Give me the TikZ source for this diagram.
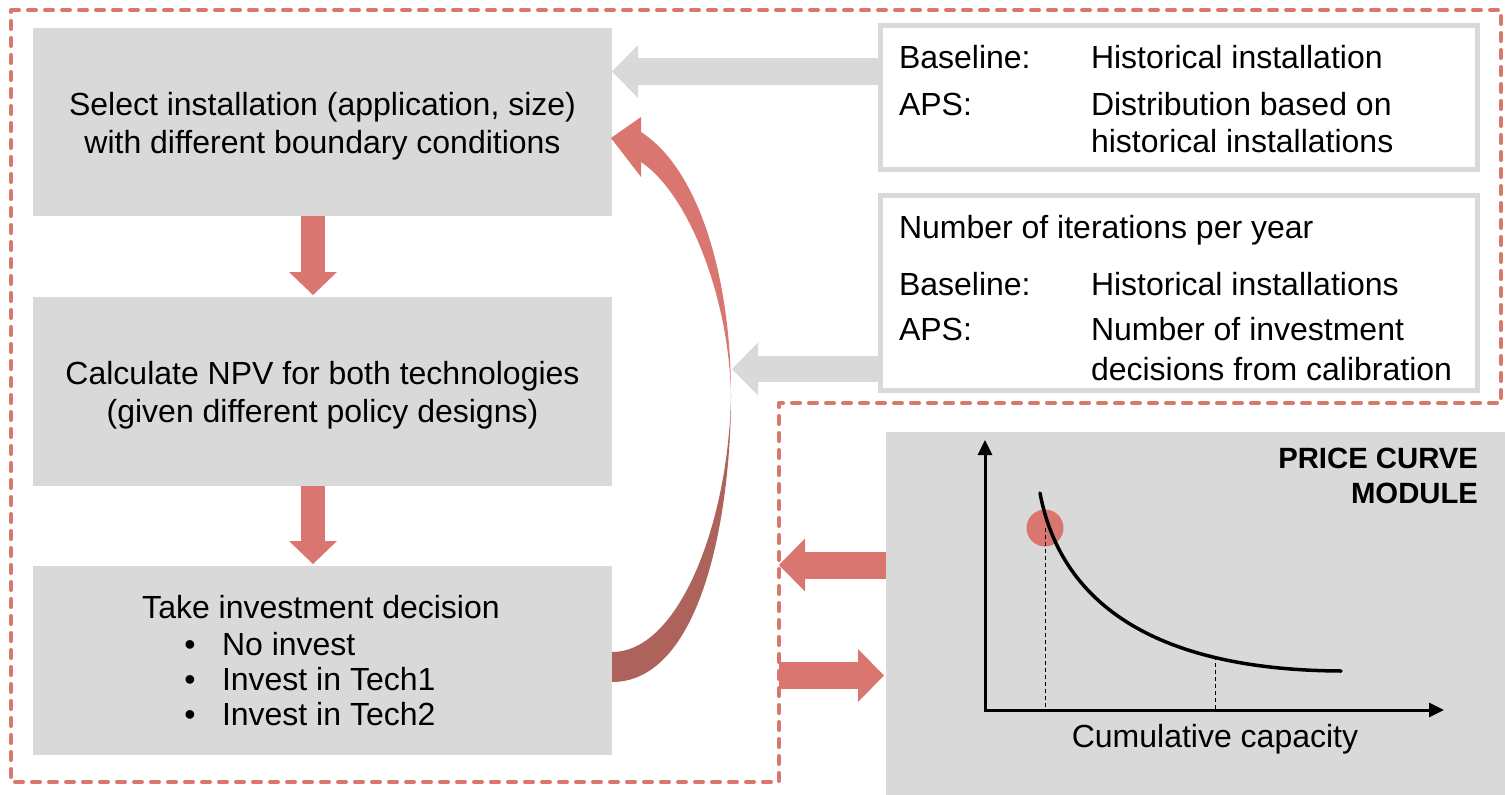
\documentclass[tikz,border=0pt]{standalone}
\usepackage{fontspec}
\setmainfont{Liberation Sans}
\usetikzlibrary{arrows.meta,calc}
\definecolor{redc}{HTML}{DA7670}
\definecolor{redd}{HTML}{AD625C}
\definecolor{grayc}{HTML}{D9D9D9}
\begin{document}
\begin{tikzpicture}[x=1pt,y=-1pt,
  every node/.style={inner sep=0pt, outer sep=0pt},
  box/.style={fill=grayc, anchor=north west},
  infobox/.style={draw=grayc, line width=5pt, fill=white, anchor=north west},
  txt/.style={font=\fontsize{32}{38}\selectfont, anchor=base},
  txtl/.style={font=\fontsize{32}{38}\selectfont, anchor=base west},
  boldtxt/.style={font=\fontsize{29.3}{35}\selectfont\bfseries, anchor=base east},
  downarrow/.style={draw=redc, line width=24pt, -{Triangle[length=23pt,width=48pt,line width=0pt]}},
  grayarrow/.style={draw=grayc, line width=26.5pt, -{Triangle[length=26pt,width=53pt,line width=0pt]}},
  redarrowh/.style={draw=redc, line width=27pt, -{Triangle[length=26pt,width=53pt,line width=0pt]}},
  outline/.style={draw=redc, line width=4pt, dash pattern=on 8pt off 9pt, line cap=round, line join=round},
  axis/.style={line width=3pt, {Triangle[length=15pt,width=14pt]}-{Triangle[length=15pt,width=14pt]}},
  guide/.style={line width=1pt, dash pattern=on 4pt off 3pt}
]
\fill[white] (0,0) rectangle (1505,795);
\useasboundingbox (0,0) rectangle (1505,795);

% dashed outline
\draw[outline] (11,10) -- (1501,10) -- (1501,403) -- (779,403) -- (779,782) -- (11,782) -- cycle;

% left process boxes
\node[box, minimum width=579pt, minimum height=188pt] (b1) at (33,28) {};
\node[box, minimum width=579pt, minimum height=189pt] (b2) at (33,297) {};
\node[box, minimum width=579pt, minimum height=189pt] (b3) at (33,566) {};

\node[txt] (t1a) at (322.5,115) {Select installation (application, size)};
\node[txt] (t1b) at (322.5,153) {with different boundary conditions};
\node[txt] (t2a) at (322.5,384.5) {Calculate NPV for both technologies};
\node[txt] (t2b) at (322.5,422.5) {(given different policy designs)};
\node[txt] (t3a) at (321,618) {Take investment decision};
\node[txt] (bu1) at (190,655) {•};
\node[txt] (bu2) at (190,690) {•};
\node[txt] (bu3) at (190,725) {•};
\node[txtl] (t3b) at (222,655) {No invest};
\node[txtl] (t3c) at (222,690) {Invest in Tech1};
\node[txtl] (t3d) at (222,725) {Invest in Tech2};

% down arrows
\draw[downarrow] ([xshift=-9.5pt]b1.south) -- ([xshift=-9.5pt,yshift=2pt]b2.north);
\draw[downarrow] ([xshift=-9.5pt]b2.south) -- ([xshift=-9.5pt,yshift=2pt]b3.north);

% right info boxes
\node[infobox, minimum width=597pt, minimum height=144pt] (bA) at (880.5,25.5) {};
\node[infobox, minimum width=597pt, minimum height=195pt] (bB) at (880.5,195.5) {};

\node[txtl] (a1) at (899,68) {Baseline:};
\node[txtl] (a2) at (1091,68) {Historical installation};
\node[txtl] (a3) at (899,115) {APS:};
\node[txtl] (a4) at (1091,115) {Distribution based on};
\node[txtl] (a5) at (1091,152) {historical installations};

\node[txtl] (c0) at (899,238) {Number of iterations per year};
\node[txtl] (c1) at (899,295) {Baseline:};
\node[txtl] (c2) at (1091,295) {Historical installations};
\node[txtl] (c3) at (899,340.5) {APS:};
\node[txtl] (c4) at (1091,340.5) {Number of investment};
\node[txtl] (c5) at (1091,380) {decisions from calibration};

% gray arrows
\coordinate (ga1) at ([yshift=26pt]bA.west);
\draw[grayarrow] (ga1) -- (ga1 -| b1.east);
\coordinate (ga2s) at ([yshift=-76pt]bB.west);
\coordinate (ga2e) at (732,369);
\draw[grayarrow] (ga2s) -- (ga2e);

% curved feedback arrow
\fill[redd] (612,652) .. controls (680,652) and (729,520) .. (731,395)
  .. controls (731,520) and (700,682) .. (612,682) -- cycle;
\fill[redc] (641,132) .. controls (700,170) and (731,280) .. (731,395)
  .. controls (729,300) and (690,195) .. (641,162) -- cycle;
\fill[redc] (641,117) -- (611,138) -- (641,177) -- cycle;

% price curve module
\node[box, minimum width=625pt, minimum height=370pt] (pc) at (886,432) {};
\node[boldtxt] (pcl1) at (1478,468) {PRICE CURVE};
\node[boldtxt] (pcl2) at (1478,503) {MODULE};
\fill[redc] (1045,528) circle (18.5pt);
\draw[guide] (1045,528) -- (1045,710);
\draw[guide] (1215,656) -- (1215,710);
\draw[axis] (985,440) -- (985,710) -- (1444,710);
\draw[line width=3.5pt, line cap=round] (1040,493) .. controls (1060,600) and (1150,670) .. (1341,671);
\node[txt] (cap) at (1215,747) {Cumulative capacity};

% red arrows to/from module
\coordinate (dashx) at (779,403);
\coordinate (ra1) at ([yshift=52pt]pc.west);
\draw[redarrowh] (ra1) -- (ra1 -| dashx);
\coordinate (ra2) at ([yshift=-58.5pt]pc.west);
\draw[redarrowh] (ra2 -| dashx) -- ([xshift=-2pt]ra2);
\end{tikzpicture}
\end{document}
